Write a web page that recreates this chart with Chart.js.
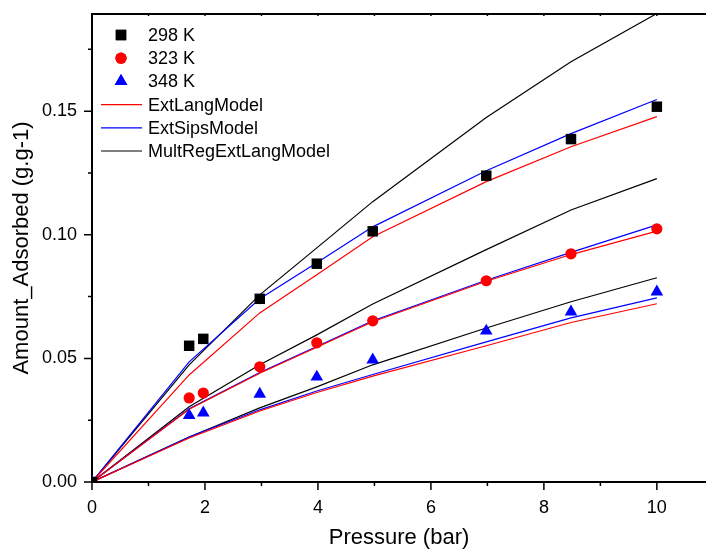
<!DOCTYPE html>
<html lang="en">
<head>
<meta charset="UTF-8">
<title>Adsorption isotherms</title>
<script src="https://cdn.jsdelivr.net/npm/chart.js"></script>
<style>
  body { margin: 0; background: #fff; }
  #wrap { width: 706px; height: 549px; }
</style>
</head>
<body>
<div id="wrap"><canvas id="myChart"></canvas></div>
<script>
// measured points (pressure in bar, amount in g/g)
const pressure = [0, 1.72, 1.97, 2.97, 3.98, 4.97, 6.98, 8.48, 10.0];
const ads298 = [0, 0.0551, 0.0579, 0.0741, 0.0883, 0.1014, 0.1239, 0.1387, 0.1518];
const ads323 = [0, 0.0340, 0.0360, 0.0466, 0.0563, 0.0652, 0.0814, 0.0923, 0.1024];
const ads348 = [0, 0.0270, 0.0280, 0.0356, 0.0425, 0.0494, 0.0611, 0.0688, 0.0769];

// model curves
const modelPressure = [0, 1.72, 2.97, 3.98, 4.97, 6.98, 8.48, 10.0];
const lang298 = [0, 0.0433, 0.0684, 0.0838, 0.0992, 0.1215, 0.1356, 0.1478];
const sips298 = [0, 0.0486, 0.0741, 0.0887, 0.1032, 0.1259, 0.1409, 0.1547];
const mult298 = [0, 0.0474, 0.0757, 0.0947, 0.1134, 0.1474, 0.1700, 0.1895];
const lang323 = [0, 0.0294, 0.0440, 0.0545, 0.0648, 0.0812, 0.0920, 0.1015];
const sips323 = [0, 0.0296, 0.0443, 0.0548, 0.0652, 0.0816, 0.0929, 0.1040];
const mult323 = [0, 0.0304, 0.0474, 0.0595, 0.0720, 0.0940, 0.1100, 0.1227];
const lang348 = [0, 0.0178, 0.0287, 0.0362, 0.0428, 0.0551, 0.0645, 0.0721];
const sips348 = [0, 0.0182, 0.0292, 0.0368, 0.0435, 0.0567, 0.0664, 0.0745];
const mult348 = [0, 0.0182, 0.0300, 0.0385, 0.0474, 0.0623, 0.0729, 0.0826];

const xTicks = [0, 1, 2, 3, 4, 5, 6, 7, 8, 9, 10];
const yTicks = [0, 0.025, 0.05, 0.075, 0.1, 0.125, 0.15, 0.175];

const FONT = "'Liberation Sans', Arial, sans-serif";
const pts = (xs, ys) => xs.map((x, i) => ({ x: x, y: ys[i] }));

function marks(label, data, shape, color, r) {
    return { label: label, data: pts(pressure, data), pointStyle: shape, pointRadius: r,
             backgroundColor: color, borderColor: color, borderWidth: 0, showLine: false };
}
function curve(label, data, color, legend) {
    return { label: label, data: pts(modelPressure, data), showLine: true, pointRadius: 0,
             borderColor: color, borderWidth: 1.2, fill: false, inLegend: legend };
}

const datasets = [
    marks('298 K', ads298, 'rect', '#000000', 7.4),
    marks('323 K', ads323, 'circle', '#ff0000', 5.6),
    marks('348 K', ads348, 'triangle', '#0000ff', 7.3),
    curve('ExtLangModel', lang298, '#ff0000', true),
    curve('ExtSipsModel', sips298, '#0000ff', true),
    curve('MultRegExtLangModel', mult298, '#000000', true),
    curve('ExtLangModel', lang323, '#ff0000'),
    curve('ExtSipsModel', sips323, '#0000ff'),
    curve('MultRegExtLangModel', mult323, '#000000'),
    curve('ExtLangModel', lang348, '#ff0000'),
    curve('ExtSipsModel', sips348, '#0000ff'),
    curve('MultRegExtLangModel', mult348, '#000000')
];

// tick marks: outward on bottom/left, short inward ones on the top frame
const frameTicks = {
    id: 'frameTicks',
    afterDraw(chart) {
        const ctx = chart.ctx, a = chart.chartArea;
        const sx = chart.scales.x, sy = chart.scales.y;
        ctx.save();
        ctx.strokeStyle = '#000';
        ctx.lineWidth = 1.5;
        ctx.beginPath();
        sx.ticks.forEach(t => {
            const px = sx.getPixelForValue(t.value);
            const len = t.value % 2 === 0 ? 8 : 4;
            ctx.moveTo(px, a.bottom); ctx.lineTo(px, a.bottom + len);
            ctx.moveTo(px, a.top); ctx.lineTo(px, a.top + 2);
        });
        sy.ticks.forEach(t => {
            const py = sy.getPixelForValue(t.value);
            const major = Math.abs(t.value / 0.05 - Math.round(t.value / 0.05)) < 1e-6;
            ctx.moveTo(a.left, py); ctx.lineTo(a.left - (major ? 8 : 4), py);
        });
        ctx.stroke();
        ctx.lineWidth = 2;
        ctx.beginPath();
        ctx.moveTo(a.left, a.top); ctx.lineTo(a.right, a.top);
        ctx.stroke();
        ctx.restore();
    }
};

// legend sits inside the plot, upper left
const innerLegend = {
    id: 'innerLegend',
    afterDraw(chart) {
        const ctx = chart.ctx;
        const items = chart.data.datasets.filter(d => !d.showLine || d.inLegend);
        ctx.save();
        ctx.font = '18px ' + FONT;
        ctx.textBaseline = 'middle';
        items.forEach((d, i) => {
            const y = 35 + i * 23.2;
            if (d.showLine) {
                ctx.strokeStyle = d.borderColor;
                ctx.lineWidth = 1.2;
                ctx.beginPath(); ctx.moveTo(101, y); ctx.lineTo(142, y); ctx.stroke();
            } else {
                ctx.fillStyle = d.backgroundColor;
                ctx.strokeStyle = d.borderColor;
                Chart.helpers.drawPoint(ctx, { pointStyle: d.pointStyle, radius: d.pointRadius, borderWidth: 0 }, 121, y);
                ctx.fill();
            }
            ctx.fillStyle = '#000';
            ctx.fillText(d.label, 148, y + 1);
        });
        ctx.restore();
    }
};

new Chart(document.getElementById('myChart'), {
    type: 'scatter',
    data: { datasets: datasets },
    plugins: [frameTicks, innerLegend],
    options: {
        responsive: true,
        maintainAspectRatio: false,
        animation: false,
        layout: { autoPadding: false, padding: { top: 14, right: 0, left: 0, bottom: 0 } },
        plugins: { legend: { display: false }, tooltip: { enabled: false } },
        scales: {
            x: {
                type: 'linear', min: 0, max: 10.87,
                afterBuildTicks: s => { s.ticks = xTicks.map(v => ({ value: v })); },
                afterFit: s => { s.height = 67; s.paddingLeft = 0; s.paddingRight = 0; },
                grid: { drawOnChartArea: false, drawTicks: false },
                border: { display: true, color: '#000', width: 2 },
                ticks: {
                    color: '#000', padding: 15, maxRotation: 0,
                    font: { family: FONT, size: 18 },
                    callback: v => (v % 2 === 0 ? String(v) : '')
                },
                title: { display: true, text: 'Pressure (bar)', color: '#000',
                         font: { family: FONT, size: 22, lineHeight: 1 }, padding: 0 }
            },
            y: {
                type: 'linear', min: 0, max: 0.1893,
                afterBuildTicks: s => { s.ticks = yTicks.map(v => ({ value: v })); },
                afterFit: s => { s.width = 92; s.paddingTop = 0; s.paddingBottom = 0; },
                grid: { drawOnChartArea: false, drawTicks: false },
                border: { display: true, color: '#000', width: 2 },
                ticks: {
                    color: '#000', padding: 15,
                    font: { family: FONT, size: 18 },
                    callback: v => {
                        const k = v / 0.05;
                        return Math.abs(k - Math.round(k)) < 1e-6 ? v.toFixed(2) : '';
                    }
                },
                title: { display: true, text: 'Amount_Adsorbed (g.g-1)', color: '#000',
                         font: { family: FONT, size: 22, lineHeight: 1 }, padding: 11 }
            }
        }
    }
});
</script>
</body>
</html>
